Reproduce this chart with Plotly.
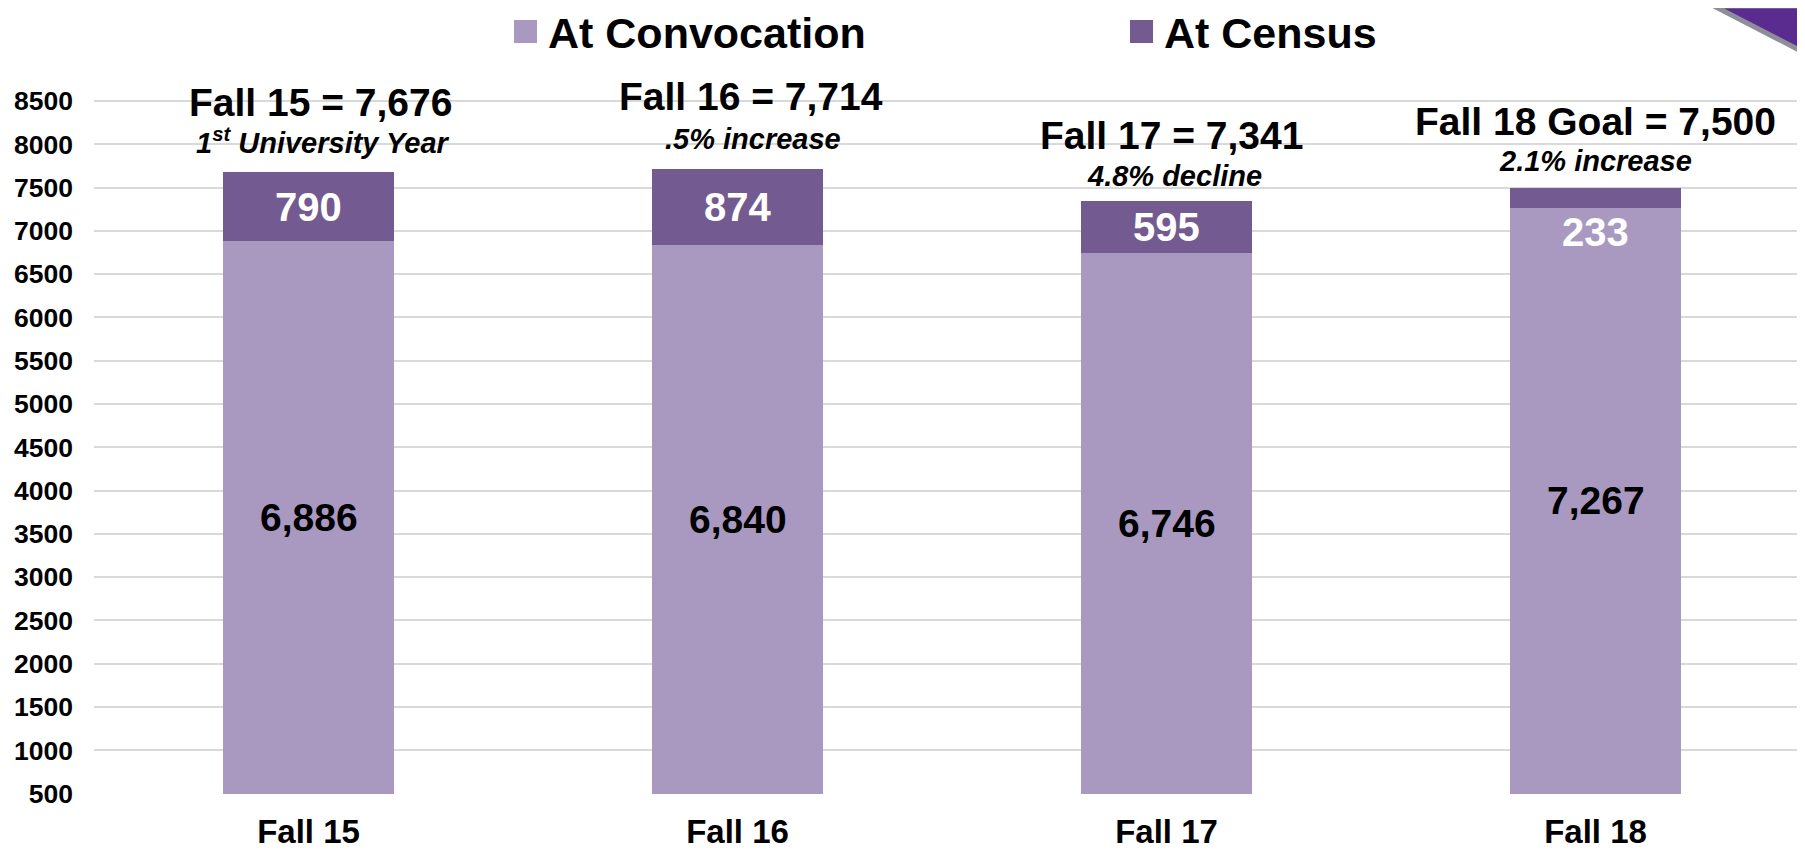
import plotly.graph_objects as go

categories = ["Fall 15", "Fall 16", "Fall 17", "Fall 18"]
at_convocation = [6886, 6840, 6746, 7267]
at_census = [790, 874, 595, 233]
headlines = ["Fall 15 = 7,676", "Fall 16 = 7,714", "Fall 17 = 7,341", "Fall 18 Goal = 7,500"]
subheads = ["1<sup>st</sup> University Year", ".5% increase", "4.8% decline", "2.1% increase"]
y_ticks = list(range(500, 9000, 500))

# layout-only offsets (pixels) for the headline text above each bar
headline_dy = [70, 73, 66, 66]
subhead_dy = [31, 30, 25, 27]
headline_dx = [12, 13, 5, 0]
subhead_dx = [14, 15, 8, 0]

LIGHT = "#A999C0"
DARK = "#735A91"
FONT = "Liberation Sans, Arial, sans-serif"
Y_MIN, Y_MAX = 495, 8650

W, H = 1797, 845
L, R, T, B = 86, 0, 80, 59
PW, PH = W - L - R, H - T - B


def xp(px):
    return (px - L) / PW


def yp(py):
    return (H - B - py) / PH


fig = go.Figure()
fig.add_trace(go.Bar(x=categories, y=at_convocation, name="At Convocation",
                     marker=dict(color=LIGHT, line=dict(width=0)), showlegend=False))
fig.add_trace(go.Bar(x=categories, y=at_census, name="At Census",
                     marker=dict(color=DARK, line=dict(width=0)), showlegend=False))

annotations = []
for i, cat in enumerate(categories):
    conv = at_convocation[i]
    cen = at_census[i]
    total = conv + cen
    annotations.append(dict(x=cat, y=(Y_MIN + conv) / 2, text=f"<b>{conv:,}</b>", showarrow=False,
                            font=dict(family=FONT, size=39, color="black")))
    if cen >= 400:
        annotations.append(dict(x=cat, y=conv + cen / 2, text=f"<b>{cen:,}</b>", showarrow=False,
                                font=dict(family=FONT, size=40, color="white")))
    else:
        annotations.append(dict(x=cat, y=conv, yanchor="top", yshift=0, text=f"<b>{cen:,}</b>",
                                showarrow=False, font=dict(family=FONT, size=40, color="white")))
    annotations.append(dict(x=cat, y=total, yshift=headline_dy[i], xshift=headline_dx[i],
                            text=f"<b>{headlines[i]}</b>",
                            showarrow=False, font=dict(family=FONT, size=39, color="black")))
    annotations.append(dict(x=cat, y=total, yshift=subhead_dy[i], xshift=subhead_dx[i],
                            text=f"<b><i>{subheads[i]}</i></b>",
                            showarrow=False, font=dict(family=FONT, size=29, color="black")))

# custom legend (large square swatches)
legend_items = [("At Convocation", LIGHT, 506), ("At Census", DARK, 1122)]
shapes = []
for name, col, px in legend_items:
    shapes.append(dict(type="rect", xref="paper", yref="paper",
                       x0=xp(px), x1=xp(px + 23), y0=yp(35), y1=yp(12),
                       fillcolor=col, line=dict(width=0), layer="above"))
    annotations.append(dict(xref="paper", yref="paper", x=xp(px + 32), xanchor="left",
                            y=yp(25), yanchor="middle", text=f"<b>{name}</b>",
                            showarrow=False, font=dict(family=FONT, size=43, color="black")))

# corner decoration
shapes.append(dict(type="path", xref="paper", yref="paper",
                   path="M {} {} L {} {} L {} {} Z".format(xp(1706), yp(-2), xp(W + 2), yp(-2),
                                                           xp(W + 2), yp(46)),
                   fillcolor="#5B2C8F", line=dict(color="#8E8E99", width=5)))

fig.update_layout(
    width=W, height=H,
    margin=dict(l=L, r=R, t=T, b=B, pad=0, autoexpand=False),
    barmode="stack", bargap=0.6,
    plot_bgcolor="white", paper_bgcolor="white",
    annotations=annotations, shapes=shapes,
    xaxis=dict(range=[-0.5, -0.5 + PW / 429.0], showgrid=False, showline=False, ticks="",
               automargin=False,
               tickfont=dict(family=FONT, size=33, color="black", weight="bold"),
               ticklabelstandoff=15),
    yaxis=dict(range=[Y_MIN, Y_MAX], tickvals=y_ticks, ticktext=[str(v) for v in y_ticks],
               automargin=False,
               showgrid=True, gridcolor="#D9D9D9", gridwidth=2, zeroline=False, showline=False,
               ticks="", tickfont=dict(family=FONT, size=26.5, color="black", weight="bold"),
               ticklabelstandoff=20),
)

fig.write_html("out.html")
